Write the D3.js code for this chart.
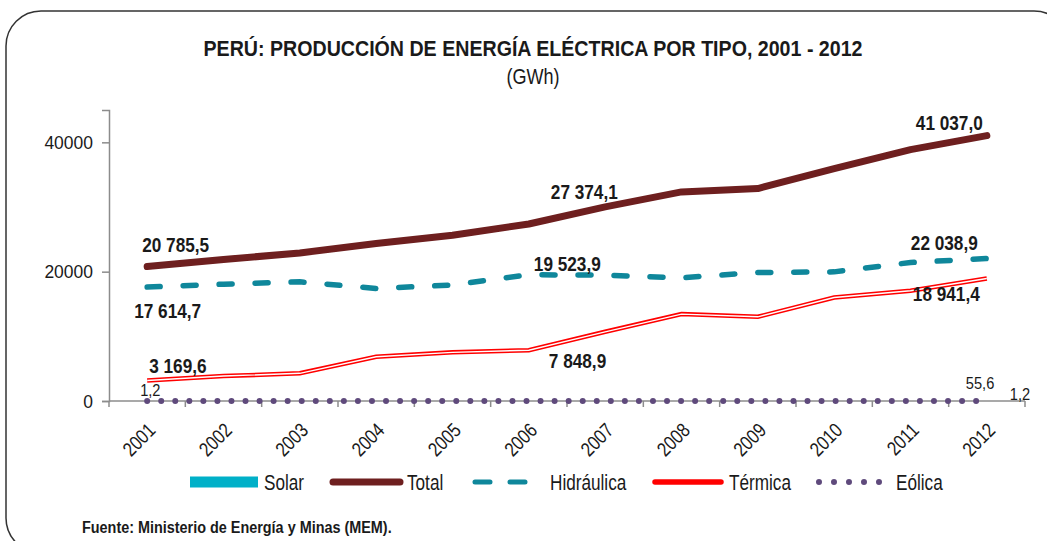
<!DOCTYPE html>
<html>
<head>
<meta charset="utf-8">
<script src="https://cdn.jsdelivr.net/npm/d3@7"></script>
<style>
  body { margin: 0; background: #fff; }
  svg { display: block; font-family: "Liberation Sans", Arial, sans-serif; }
</style>
</head>
<body>
<div id="chart-area"></div>
<script>
const years = ["2001", "2002", "2003", "2004", "2005", "2006", "2007", "2008", "2009", "2010", "2011", "2012"];
const total = [20785.5, 21880, 22900, 24350, 25640, 27374.1, 30010, 32330, 32850, 35940, 38870, 41037.0];
const hidraulica = [17614.7, 18070, 18430, 17400, 17950, 19523.9, 19460, 19050, 19870, 19970, 21420, 22038.9];
const termica = [3169.6, 3860, 4280, 6840, 7520, 7848.9, 10700, 13440, 13020, 16010, 17040, 18941.4];
const eolica = [1.2, 1.1, 1.1, 1.0, 1.0, 0.9, 0.9, 0.9, 1.0, 0.9, 1.0, 1.2];
const solar = [null, null, null, null, null, null, null, null, null, null, null, 55.6];
const yTicks = [0, 20000, 40000];

const W = 1047, H = 541;
const margin = { top: 110, right: 22, bottom: 140, left: 109 };
const width = W - margin.left - margin.right;
const height = H - margin.top - margin.bottom;

// squeeze text horizontally to mimic a narrow font
function narrow(sel, k) {
  sel.each(function () {
    const len = this.getComputedTextLength();
    d3.select(this)
      .attr("textLength", len * k)
      .attr("lengthAdjust", "spacingAndGlyphs");
  });
}

const svg = d3.select("#chart-area")
  .append("svg")
  .attr("width", W)
  .attr("height", H);

// rounded frame
svg.append("rect")
  .attr("x", 6).attr("y", 11)
  .attr("width", 1063).attr("height", 542)
  .attr("rx", 35).attr("ry", 35)
  .attr("fill", "none")
  .attr("stroke", "#333")
  .attr("stroke-width", 1.5);

svg.append("text")
  .attr("x", 533).attr("y", 56)
  .attr("text-anchor", "middle")
  .attr("font-size", "22px")
  .attr("font-weight", "bold")
  .attr("fill", "#1a1a1a")
  .attr("textLength", 659)
  .attr("lengthAdjust", "spacingAndGlyphs")
  .text("PERÚ: PRODUCCIÓN DE ENERGÍA ELÉCTRICA POR TIPO, 2001 - 2012");

svg.append("text")
  .attr("x", 533).attr("y", 84)
  .attr("text-anchor", "middle")
  .attr("font-size", "22px")
  .attr("fill", "#1a1a1a")
  .text("(GWh)")
  .call(narrow, 0.82);

const g = svg.append("g")
  .attr("transform", `translate(${margin.left}, ${margin.top})`);

const x = d3.scaleBand()
  .domain(years)
  .range([0, width]);

const y = d3.scaleLinear()
  .domain([0, 45000])
  .range([height, 0]);

const cx = d => x(d) + x.bandwidth() / 2;

// y axis
const yAxisCall = d3.axisLeft(y)
  .tickValues(yTicks)
  .tickFormat(d3.format("d"))
  .tickSize(7)
  .tickPadding(9);

const yAxisGroup = g.append("g").call(yAxisCall);
yAxisGroup.select(".domain").attr("stroke", "#8c8c8c").attr("stroke-width", 1.5);
yAxisGroup.selectAll(".tick line").attr("stroke", "#8c8c8c").attr("stroke-width", 1.5);
yAxisGroup.selectAll(".tick text")
  .attr("font-size", "19px")
  .attr("font-family", "Liberation Sans, Arial, sans-serif")
  .attr("fill", "#1a1a1a")
  .call(narrow, 0.92);

// x axis: line + ticks at band edges, labels at centers
const xAxisGroup = g.append("g")
  .attr("transform", `translate(0, ${height})`);

xAxisGroup.append("line")
  .attr("x1", 0).attr("x2", width)
  .attr("stroke", "#8c8c8c").attr("stroke-width", 1.5);

xAxisGroup.selectAll(".edge")
  .data(years.concat(["end"]))
  .enter().append("line")
  .attr("x1", (d, i) => i < years.length ? x(d) : width)
  .attr("x2", (d, i) => i < years.length ? x(d) : width)
  .attr("y1", 0).attr("y2", 6)
  .attr("stroke", "#8c8c8c").attr("stroke-width", 1.5);

xAxisGroup.selectAll(".yr")
  .data(years)
  .enter().append("text")
  .attr("transform", d => `translate(${cx(d) - 1}, 20) rotate(-45)`)
  .attr("text-anchor", "end")
  .attr("dy", "0.75em")
  .attr("font-size", "20px")
  .attr("fill", "#1a1a1a")
  .text(d => d)
  .call(narrow, 0.82);

// lines
const line = d3.line()
  .defined(d => d[1] != null)
  .x(d => cx(d[0]))
  .y(d => y(d[1]));

const pairs = vals => years.map((yr, i) => [yr, vals[i]]);

g.append("path")
  .datum(pairs(eolica))
  .attr("d", line)
  .attr("fill", "none")
  .attr("stroke", "#5f4a7c")
  .attr("stroke-width", 6)
  .attr("stroke-linecap", "round")
  .attr("stroke-dasharray", "0,14.05");

g.append("path")
  .datum(pairs(termica))
  .attr("d", line)
  .attr("fill", "none")
  .attr("stroke", "#ff0000")
  .attr("stroke-width", 4.5);

g.append("path")
  .datum(pairs(termica))
  .attr("d", line)
  .attr("fill", "none")
  .attr("stroke", "#ffffff")
  .attr("stroke-width", 1.4);

g.append("path")
  .datum(pairs(hidraulica))
  .attr("d", line)
  .attr("fill", "none")
  .attr("stroke", "#0f879b")
  .attr("stroke-width", 5.5)
  .attr("stroke-linecap", "round")
  .attr("stroke-dasharray", "13,23");

g.append("path")
  .datum(pairs(total))
  .attr("d", line)
  .attr("fill", "none")
  .attr("stroke", "#6e1f1f")
  .attr("stroke-width", 7)
  .attr("stroke-linecap", "round")
  .attr("stroke-linejoin", "round");

// data labels
const labels = [
  { yr: "2001", v: total[0], dx: -5, dy: -15, t: "20 785,5", bold: true },
  { yr: "2001", v: hidraulica[0], dx: -13, dy: 31, t: "17 614,7", bold: true },
  { yr: "2001", v: termica[0], dx: 2, dy: -8, t: "3 169,6", bold: true },
  { yr: "2001", v: eolica[0], dx: -7, dy: -5, t: "1,2", bold: false },
  { yr: "2006", v: total[5], dx: 22, dy: -25, t: "27 374,1", bold: true },
  { yr: "2006", v: hidraulica[5], dx: 5, dy: -4, t: "19 523,9", bold: true },
  { yr: "2006", v: termica[5], dx: 20, dy: 18, t: "7 848,9", bold: true },
  { yr: "2012", v: total[11], dx: -71, dy: -6, t: "41 037,0", bold: true },
  { yr: "2012", v: hidraulica[11], dx: -76, dy: -8, t: "22 038,9", bold: true },
  { yr: "2012", v: termica[11], dx: -74, dy: 22, t: "18 941,4", bold: true },
  { yr: "2012", v: solar[11], dx: -21, dy: -12, t: "55,6", bold: false },
  { yr: "2012", v: eolica[11], dx: 23, dy: -1, t: "1,2", bold: false }
];

g.selectAll(".lbl")
  .data(labels)
  .enter().append("text")
  .attr("x", d => cx(d.yr) + d.dx)
  .attr("y", d => y(d.v) + d.dy)
  .attr("font-size", d => d.bold ? "20px" : "17px")
  .attr("font-weight", d => d.bold ? "bold" : "normal")
  .attr("fill", "#1a1a1a")
  .text(d => d.t)
  .call(narrow, 0.86);

// legend
const legend = svg.append("g").attr("transform", "translate(0, 482)");

legend.append("rect")
  .attr("x", 190).attr("y", -5.5).attr("width", 68).attr("height", 11)
  .attr("fill", "#00b0c8");
legend.append("line")
  .attr("x1", 333).attr("x2", 400)
  .attr("stroke", "#6e1f1f").attr("stroke-width", 7).attr("stroke-linecap", "round");
legend.append("line")
  .attr("x1", 475).attr("x2", 528)
  .attr("stroke", "#0f879b").attr("stroke-width", 5)
  .attr("stroke-linecap", "round").attr("stroke-dasharray", "15,20");
legend.append("line")
  .attr("x1", 655).attr("x2", 721)
  .attr("stroke", "#ff0000").attr("stroke-width", 5.5).attr("stroke-linecap", "round");
legend.append("line")
  .attr("x1", 819).attr("x2", 880)
  .attr("stroke", "#5f4a7c").attr("stroke-width", 6)
  .attr("stroke-linecap", "round").attr("stroke-dasharray", "0,15");

const legendNames = [["Solar", 264], ["Total", 407], ["Hidráulica", 550], ["Térmica", 729], ["Eólica", 896]];
legend.selectAll(".ln")
  .data(legendNames)
  .enter().append("text")
  .attr("x", d => d[1]).attr("y", 8)
  .attr("font-size", "22px")
  .attr("fill", "#1a1a1a")
  .text(d => d[0])
  .call(narrow, 0.78);

svg.append("text")
  .attr("x", 82).attr("y", 533)
  .attr("font-size", "16px")
  .attr("font-weight", "bold")
  .attr("fill", "#1a1a1a")
  .text("Fuente: Ministerio de Energía y Minas (MEM).")
  .call(narrow, 0.9);
</script>
</body>
</html>
